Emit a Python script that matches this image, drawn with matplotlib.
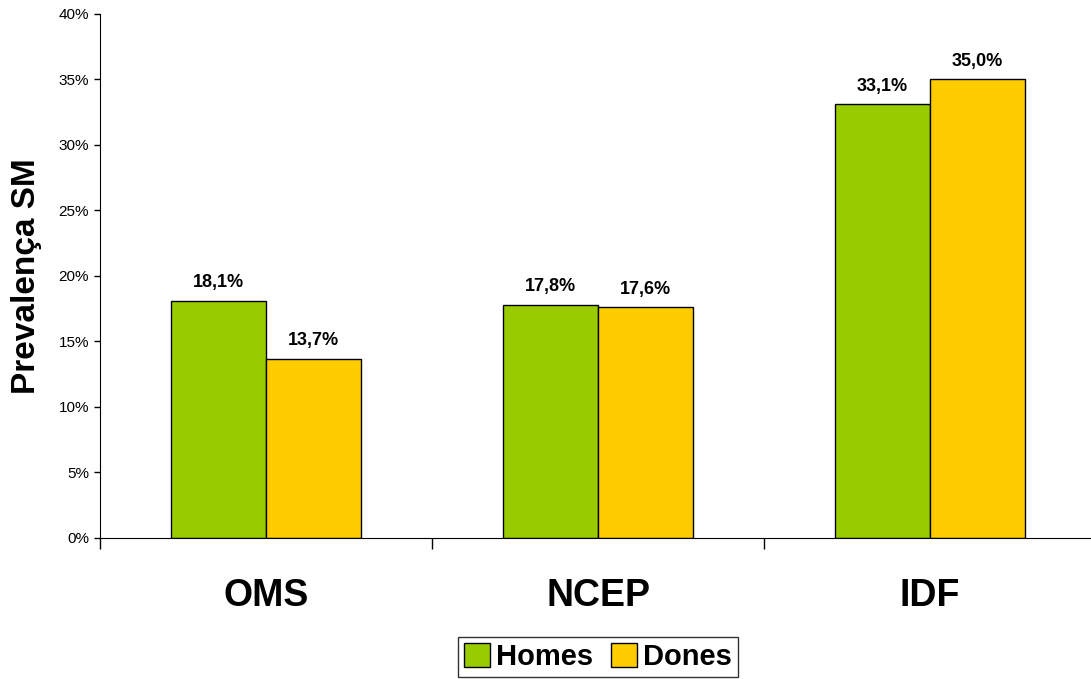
import matplotlib.pyplot as plt
from matplotlib.ticker import FixedLocator, PercentFormatter

plt.rcParams['font.family'] = ['Liberation Sans', 'DejaVu Sans']

categories = ['OMS', 'NCEP', 'IDF']
homes = [18.1, 17.8, 33.1]
dones = [13.7, 17.6, 35.0]
series = ['Homes', 'Dones']
colors = ['#99CC00', '#FFCC00']

fig = plt.figure(figsize=(10.91, 6.79), dpi=100)
ax = fig.add_axes([0.0917, 0.2077, 0.913, 0.7717])

w = 0.286
x = range(len(categories))
for vals, off, col, name in [(homes, -w / 2, colors[0], series[0]),
                             (dones, w / 2, colors[1], series[1])]:
    pos = [i + off for i in x]
    ax.bar(pos, vals, width=w, color=col, edgecolor='black', linewidth=1, label=name)
    for p, v in zip(pos, vals):
        ax.annotate(('%.1f%%' % v).replace('.', ','), (p, v), xytext=(0, 7),
                    textcoords='offset points', ha='center', va='bottom',
                    fontsize=13, fontweight='bold')

ax.set_xlim(-0.5, 2.5)
ax.set_ylim(0, 40)
ax.set_yticks(range(0, 41, 5))
ax.yaxis.set_major_formatter(PercentFormatter(decimals=0))
ax.tick_params(axis='y', length=4, width=1, labelsize=11, pad=4)

ax.set_xticks(list(x))
ax.set_xticklabels(categories, fontsize=27, fontweight='bold')
ax.tick_params(axis='x', which='major', length=0, pad=29)
ax.xaxis.set_minor_locator(FixedLocator([-0.5, 0.5, 1.5, 2.5]))
ax.tick_params(axis='x', which='minor', length=8, width=1)

for s in ['top', 'right']:
    ax.spines[s].set_visible(False)

ax.set_ylabel('Prevalença SM', fontsize=24, fontweight='bold', va='center')
ax.yaxis.set_label_coords(-0.074, 0.5)

leg = fig.legend(loc='center', bbox_to_anchor=(598 / 1091, 1 - 657 / 679), ncol=2,
                 fontsize=21, frameon=True, fancybox=False, edgecolor='black',
                 handlelength=0.9, handleheight=0.9, handletextpad=0.2,
                 columnspacing=0.6, borderpad=0.2, borderaxespad=0)
for t in leg.get_texts():
    t.set_fontweight('bold')
leg.get_frame().set_linewidth(1)

fig.savefig('out.png', dpi=100)
